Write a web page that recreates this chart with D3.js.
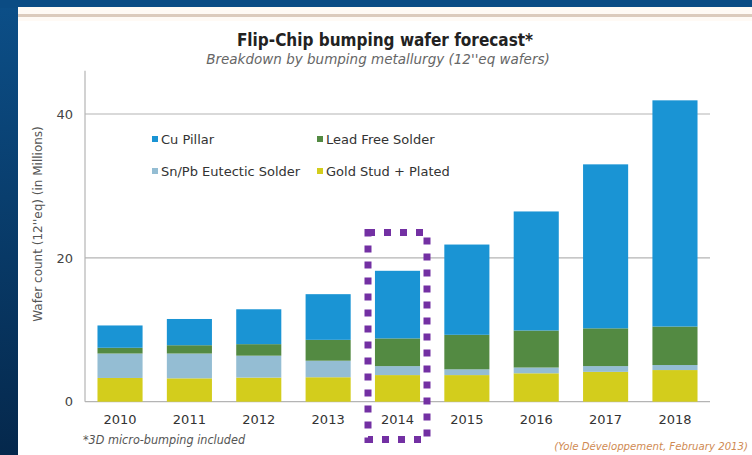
<!DOCTYPE html>
<html>
<head>
<meta charset="utf-8">
<script src="https://cdn.jsdelivr.net/npm/d3@7/dist/d3.min.js"></script>
<style>
  html, body { margin: 0; padding: 0; background: #0b4d85; }
  svg { display: block; }
</style>
</head>
<body>
<svg id="chart" width="752" height="455"></svg>
<script>
// Flip-chip bumping wafer forecast, millions of 12"-equivalent wafers
const years = ["2010", "2011", "2012", "2013", "2014", "2015", "2016", "2017", "2018"];
const goldStud = [3.3, 3.25, 3.35, 3.4, 3.7, 3.7, 3.95, 4.15, 4.4];
const snPb = [3.4, 3.45, 3.05, 2.3, 1.25, 0.8, 0.8, 0.8, 0.7];
const leadFree = [0.8, 1.15, 1.6, 2.9, 3.85, 4.8, 5.15, 5.25, 5.35];
const cuPillar = [3.1, 3.65, 4.85, 6.35, 9.4, 12.55, 16.55, 22.8, 31.45];
const seriesNames = ["Gold Stud + Plated", "Sn/Pb Eutectic Solder", "Lead Free Solder", "Cu Pillar"];
const seriesColors = ["#d3cd1c", "#94bdd3", "#538a42", "#1a94d4"];
const yTicks = [0, 20, 40];
const highlightYear = "2014";

const svg = d3.select("#chart");
const W = 752, H = 455;

// slide background: blue frame with a white content panel
const defs = svg.append("defs");
const grad = defs.append("linearGradient").attr("id", "frame").attr("x1", 0).attr("y1", 0).attr("x2", 0).attr("y2", 1);
grad.append("stop").attr("offset", "0%").attr("stop-color", "#0c4f88");
grad.append("stop").attr("offset", "100%").attr("stop-color", "#05284c");
svg.append("rect").attr("width", W).attr("height", H).attr("fill", "url(#frame)");
svg.append("rect").attr("x", 0).attr("y", 0).attr("width", W).attr("height", 8).attr("fill", "#0b4c84");
svg.append("rect").attr("x", 18).attr("y", 7).attr("width", W - 18).attr("height", H - 7).attr("fill", "#ffffff");
svg.append("rect").attr("x", 18).attr("y", 7).attr("width", W - 18).attr("height", 14).attr("fill", "#fffaf5");
svg.append("rect").attr("x", 18).attr("y", 14).attr("width", W - 18).attr("height", 3).attr("fill", "#dccbbd");

// scales
const x = d3.scaleBand().domain(years).range([85, 710]).paddingInner(0.35).paddingOuter(0.18);
const y = d3.scaleLinear().domain([0, 40]).range([401.7, 114]);

// gridlines
svg.append("g").selectAll("line").data(yTicks).join("line")
  .attr("x1", 85).attr("x2", 710)
  .attr("y1", d => y(d)).attr("y2", d => y(d))
  .attr("stroke", "#b4b4b4").attr("stroke-width", 1.2);

// vertical axis line
svg.append("line").attr("x1", 85).attr("x2", 85).attr("y1", y(0)).attr("y2", y(46))
  .attr("stroke", "#b4b4b4").attr("stroke-width", 1.2);

// stacked bars
const rows = years.map((yr, i) => ({
  year: yr,
  "Gold Stud + Plated": goldStud[i],
  "Sn/Pb Eutectic Solder": snPb[i],
  "Lead Free Solder": leadFree[i],
  "Cu Pillar": cuPillar[i]
}));
const stack = d3.stack().keys(seriesNames)(rows);
const color = d3.scaleOrdinal().domain(seriesNames).range(seriesColors);

svg.append("g").selectAll("g").data(stack).join("g")
  .attr("fill", d => color(d.key))
  .selectAll("rect").data(d => d).join("rect")
  .attr("x", d => x(d.data.year))
  .attr("width", x.bandwidth())
  .attr("y", d => y(d[1]))
  .attr("height", d => y(d[0]) - y(d[1]));

// y tick labels
const yAxis = d3.axisLeft(y).tickValues(yTicks).tickSize(0).tickPadding(0);
const yg = svg.append("g").attr("transform", "translate(73,0)").call(yAxis);
yg.select(".domain").remove();
yg.selectAll("text").attr("font-family", "DejaVu Sans, sans-serif").attr("font-size", 13).attr("fill", "#444");

// x tick labels
const xAxis = d3.axisBottom(x).tickSize(0).tickPadding(0);
const xg = svg.append("g").attr("transform", "translate(0,415)").call(xAxis);
xg.select(".domain").remove();
xg.selectAll("text").attr("font-family", "DejaVu Sans, sans-serif").attr("font-size", 13).attr("fill", "#333");

// y axis title
svg.append("text")
  .attr("transform", `translate(42,${(113 + 335) / 2}) rotate(-90)`)
  .attr("text-anchor", "middle")
  .attr("font-family", "DejaVu Sans, sans-serif").attr("font-size", 12).attr("fill", "#555")
  .text("Wafer count (12''eq) (in Millions)");

// titles
svg.append("text").attr("x", 385).attr("y", 46).attr("text-anchor", "middle")
  .attr("font-family", "DejaVu Sans Condensed, DejaVu Sans, sans-serif").attr("font-weight", "bold")
  .attr("font-size", 17).attr("fill", "#222")
  .text("Flip-Chip bumping wafer forecast*");
svg.append("text").attr("x", 378).attr("y", 64).attr("text-anchor", "middle")
  .attr("font-family", "DejaVu Sans, sans-serif").attr("font-style", "italic")
  .attr("font-size", 13.5).attr("fill", "#666")
  .text("Breakdown by bumping metallurgy (12''eq wafers)");

// legend (two columns, two rows)
const legendOrder = ["Cu Pillar", "Lead Free Solder", "Sn/Pb Eutectic Solder", "Gold Stud + Plated"];
const legendPos = [[152, 139], [317, 139], [152, 171], [317, 171]];
const lg = svg.append("g").selectAll("g").data(legendOrder).join("g")
  .attr("transform", (d, i) => `translate(${legendPos[i][0]},${legendPos[i][1]})`);
lg.append("rect").attr("x", 0).attr("y", -3).attr("width", 6).attr("height", 6).attr("fill", d => color(d));
lg.append("text").attr("x", 9).attr("y", 0).attr("dy", "0.35em")
  .attr("font-family", "DejaVu Sans, sans-serif").attr("font-size", 13).attr("fill", "#333")
  .text(d => d);

// footnote and source
svg.append("text").attr("x", 83).attr("y", 444)
  .attr("font-family", "DejaVu Sans Condensed, DejaVu Sans, sans-serif").attr("font-style", "italic")
  .attr("font-size", 12.5).attr("fill", "#555")
  .text("*3D micro-bumping included");
svg.append("text").attr("x", 748).attr("y", 450).attr("text-anchor", "end")
  .attr("font-family", "DejaVu Sans Condensed, DejaVu Sans, sans-serif").attr("font-style", "italic")
  .attr("font-size", 11.3).attr("fill", "#cf8a52")
  .text("(Yole Développement, February 2013)");

// dotted highlight box around one year
const hx = x(highlightYear) + x.bandwidth() / 2;
svg.append("rect")
  .attr("x", hx - 29.5).attr("y", 232.5)
  .attr("width", 59).attr("height", 207)
  .attr("fill", "none").attr("stroke", "#7330a3").attr("stroke-width", 7)
  .attr("stroke-dasharray", "7 9");
</script>
</body>
</html>
